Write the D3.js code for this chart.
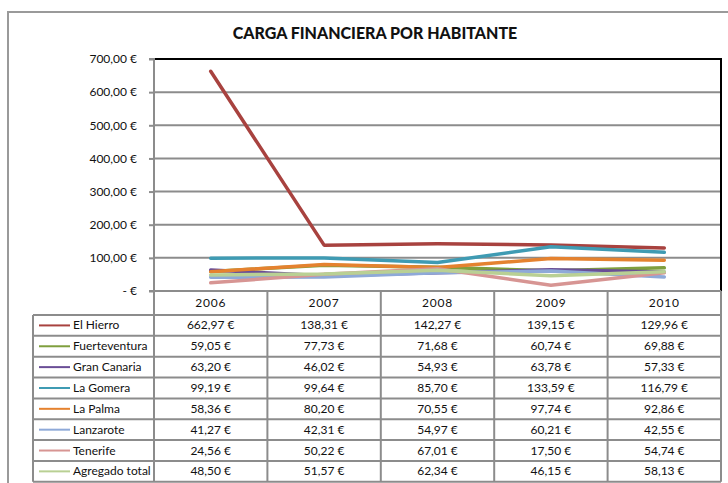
<!DOCTYPE html>
<html>
<head>
<meta charset="utf-8">
<script src="https://cdn.jsdelivr.net/npm/d3@7"></script>
<style>
  body { margin: 0; background: #fff; }
  svg { display: block; font-family: Lato, "Open Sans", sans-serif; }
</style>
</head>
<body>
<svg id="chart" width="728" height="483"></svg>
<script>
// chart data
const years = ["2006", "2007", "2008", "2009", "2010"];
const islands = ["El Hierro", "Fuerteventura", "Gran Canaria", "La Gomera", "La Palma", "Lanzarote", "Tenerife", "Agregado total"];
const elHierro      = [662.97, 138.31, 142.27, 139.15, 129.96];
const fuerteventura = [59.05, 77.73, 71.68, 60.74, 69.88];
const granCanaria   = [63.20, 46.02, 54.93, 63.78, 57.33];
const laGomera      = [99.19, 99.64, 85.70, 133.59, 116.79];
const laPalma       = [58.36, 80.20, 70.55, 97.74, 92.86];
const lanzarote     = [41.27, 42.31, 54.97, 60.21, 42.55];
const tenerife      = [24.56, 50.22, 67.01, 17.50, 54.74];
const agregado      = [48.50, 51.57, 62.34, 46.15, 58.13];
const yTicks = [0, 100, 200, 300, 400, 500, 600, 700];

const seriesValues = [elHierro, fuerteventura, granCanaria, laGomera, laPalma, lanzarote, tenerife, agregado];
const colors = ["#a8423f", "#7f9f3e", "#6a4e96", "#3f9bb3", "#e5822f", "#8ea9d8", "#d79593", "#b9d094"];

const series = islands.map((name, i) => ({ name, values: seriesValues[i], color: colors[i] }));

const svg = d3.select("#chart");

// layout
const plotLeft = 154, plotRight = 721, plotTop = 59, plotBottom = 291;
const headerBottom = 315;
const rowHeight = 20.85;
const legendLeft = 33;
const GRID = "#8c8c8c";
const FONT_SIZE = "12px";

const x = d3.scaleBand().domain(years).range([plotLeft, plotRight]);
const y = d3.scaleLinear().domain([0, 700]).range([plotBottom, plotTop]);

const fmt = v => d3.format(".2f")(v).replace(".", ",") + " €";

// outer chart border (runs off the right and bottom edges)
svg.append("rect")
  .attr("x", 8).attr("y", 12)
  .attr("width", 740).attr("height", 500)
  .attr("fill", "none")
  .attr("stroke", "#9a9a9a")
  .attr("stroke-width", 2);

// title
svg.append("text")
  .attr("x", 375).attr("y", 39)
  .attr("text-anchor", "middle")
  .attr("font-size", "16px")
  .attr("font-weight", "900")
  .attr("fill", "#111")
  .text("CARGA FINANCIERA POR HABITANTE");

// horizontal gridlines
svg.append("g")
  .selectAll("line")
  .data(yTicks.filter(t => t > 0 && t < 700))
  .join("line")
  .attr("x1", plotLeft).attr("x2", plotRight)
  .attr("y1", d => y(d)).attr("y2", d => y(d))
  .attr("stroke", GRID)
  .attr("stroke-width", 2);

// plot area border top/right in black
svg.append("path")
  .attr("d", `M${plotLeft},${y(700)}H${plotRight}V${plotBottom}`)
  .attr("fill", "none")
  .attr("stroke", "#000")
  .attr("stroke-width", 2);

// y axis
const yAxis = svg.append("g")
  .attr("transform", `translate(${plotLeft},0)`)
  .call(d3.axisLeft(y).tickValues(yTicks).tickSize(5).tickPadding(12)
    .tickFormat(d => d === 0 ? "-   €" : fmt(d)));
yAxis.select(".domain").attr("stroke", GRID).attr("stroke-width", 2).attr("d", `M-5,${plotTop}H0V${plotBottom}H-5`);
yAxis.selectAll(".tick line").attr("stroke", GRID).attr("stroke-width", 2);
yAxis.selectAll(".tick text")
  .attr("font-size", FONT_SIZE)
  .attr("fill", "#111")
  .attr("font-family", "Lato, sans-serif");

// series lines
const line = d3.line()
  .x((d, i) => x(years[i]) + x.bandwidth() / 2)
  .y(d => y(d));

svg.append("g")
  .selectAll("path")
  .data(series)
  .join("path")
  .attr("d", d => line(d.values))
  .attr("fill", "none")
  .attr("stroke", d => d.color)
  .attr("stroke-width", 3.5)
  .attr("stroke-linejoin", "round")
  .attr("stroke-linecap", "round");

// data table
const table = svg.append("g");
const tableBottom = headerBottom + rowHeight * islands.length;

// horizontal table lines
const hLines = [{ y: plotBottom, x1: plotLeft }];
for (let i = 0; i <= islands.length; i++) {
  hLines.push({ y: headerBottom + rowHeight * i, x1: legendLeft });
}
table.selectAll(".hline")
  .data(hLines)
  .join("line")
  .attr("class", "hline")
  .attr("x1", d => d.x1).attr("x2", plotRight)
  .attr("y1", d => d.y).attr("y2", d => d.y)
  .attr("stroke", GRID)
  .attr("stroke-width", 2);

// vertical table lines
const vLines = years.map(yr => x(yr)).concat([plotRight]);
table.selectAll(".vline")
  .data(vLines)
  .join("line")
  .attr("class", "vline")
  .attr("x1", d => d).attr("x2", d => d)
  .attr("y1", plotBottom).attr("y2", tableBottom)
  .attr("stroke", GRID)
  .attr("stroke-width", 2);
table.append("line")
  .attr("x1", legendLeft).attr("x2", legendLeft)
  .attr("y1", headerBottom).attr("y2", tableBottom)
  .attr("stroke", GRID)
  .attr("stroke-width", 2);

// year headers
table.selectAll(".year")
  .data(years)
  .join("text")
  .attr("class", "year")
  .attr("x", d => x(d) + x.bandwidth() / 2)
  .attr("y", (plotBottom + headerBottom) / 2 + 4)
  .attr("text-anchor", "middle")
  .attr("font-size", FONT_SIZE)
  .attr("letter-spacing", "0.8px")
  .attr("fill", "#111")
  .text(d => d);

// rows: legend key, name, values
const rows = table.selectAll(".row")
  .data(series)
  .join("g")
  .attr("class", "row")
  .attr("transform", (d, i) => `translate(0,${headerBottom + rowHeight * i + rowHeight / 2})`);

rows.append("line")
  .attr("x1", 39).attr("x2", 70)
  .attr("y1", 0).attr("y2", 0)
  .attr("stroke", d => d.color)
  .attr("stroke-width", 2);

rows.append("text")
  .attr("x", 73).attr("y", 4)
  .attr("font-size", FONT_SIZE)
  .attr("fill", "#111")
  .text(d => d.name);

rows.selectAll(".val")
  .data(d => d.values)
  .join("text")
  .attr("class", "val")
  .attr("x", (d, i) => x(years[i]) + x.bandwidth() / 2)
  .attr("y", 4)
  .attr("text-anchor", "middle")
  .attr("font-size", FONT_SIZE)
  .attr("fill", "#111")
  .text(d => fmt(d));
</script>
</body>
</html>
